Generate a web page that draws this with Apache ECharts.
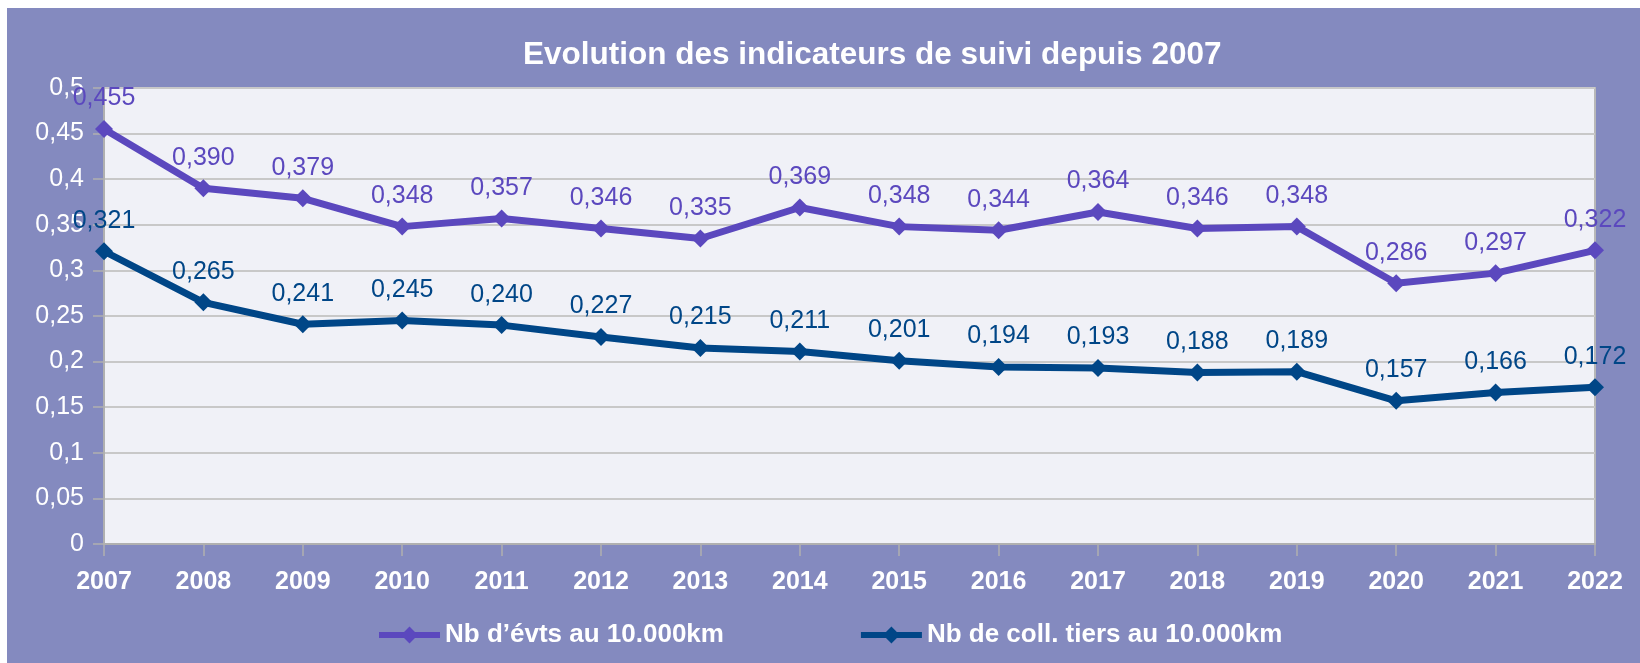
<!DOCTYPE html>
<html>
<head>
<meta charset="utf-8">
<script src="https://cdn.jsdelivr.net/npm/echarts@6/dist/echarts.min.js"></script>
<style>
html,body{margin:0;padding:0;background:#ffffff;width:1640px;height:663px;overflow:hidden;}
#chart{position:absolute;left:7px;top:8px;width:1633px;height:655px;}
</style>
</head>
<body>
<div id="chart"></div>
<script>
const years = ['2007','2008','2009','2010','2011','2012','2013','2014','2015','2016','2017','2018','2019','2020','2021','2022'];
const evtsValues = [0.455,0.390,0.379,0.348,0.357,0.346,0.335,0.369,0.348,0.344,0.364,0.346,0.348,0.286,0.297,0.322];
const collValues = [0.321,0.265,0.241,0.245,0.240,0.227,0.215,0.211,0.201,0.194,0.193,0.188,0.189,0.157,0.166,0.172];
const seriesNames = ['Nb d\u2019\u00e9vts au 10.000km', 'Nb de coll. tiers au 10.000km'];
const titleText = 'Evolution des indicateurs de suivi depuis 2007';

const FONT = "'Liberation Sans', Arial, sans-serif";
const PURPLE = '#5B48BE';
const NAVY = '#004687';

const chart = echarts.init(document.getElementById('chart'));
function mkSeries(name, data, color) {
  return {
    name: name,
    type: 'line',
    data: data,
    symbol: 'diamond',
    symbolSize: 18,
    lineStyle: { color: color, width: 7 },
    itemStyle: { color: color },
    label: {
      show: true,
      position: 'top',
      distance: 9,
      color: color,
      fontFamily: FONT,
      fontSize: 25,
      formatter: p => p.value.toFixed(3).replace('.', ',')
    },
    animation: false
  };
}
chart.setOption({
  backgroundColor: '#848ABF',
  animation: false,
  title: {
    text: titleText,
    left: 511,
    top: 26,
    textStyle: { color: '#ffffff', fontFamily: FONT, fontSize: 31.5, fontWeight: 'bold' }
  },
  grid: {
    left: 97, right: 45, top: 80, bottom: 119,
    show: true, backgroundColor: '#F0F1F7', borderColor: '#B8B8B8', borderWidth: 2,
    containLabel: false
  },
  legend: {
    left: 364,
    top: 609,
    itemWidth: 61,
    itemHeight: 21,
    itemGap: 134,
    lineStyle: { width: 6 },
    textStyle: { color: '#ffffff', fontFamily: FONT, fontSize: 26, fontWeight: 'bold' },
    data: seriesNames
  },
  xAxis: {
    type: 'category',
    data: years,
    boundaryGap: false,
    axisLine: { lineStyle: { color: '#B0B0B0', width: 2 } },
    axisTick: { show: true, length: 12, lineStyle: { color: '#B0B0B0', width: 1.5 } },
    axisLabel: { color: '#ffffff', fontFamily: FONT, fontSize: 25, fontWeight: 'bold', margin: 26 },
    splitLine: { show: false }
  },
  yAxis: {
    type: 'value',
    min: 0, max: 0.5, interval: 0.05,
    axisLine: { show: true, lineStyle: { color: '#B0B0B0', width: 2 } },
    axisTick: { show: true, length: 11, lineStyle: { color: '#B0B0B0', width: 1.5 } },
    axisLabel: {
      color: '#ffffff', fontFamily: FONT, fontSize: 25, margin: 20,
      formatter: v => String(+v.toFixed(2)).replace('.', ',')
    },
    splitLine: { show: true, lineStyle: { color: '#C8C8C8', width: 2 } }
  },
  series: [
    mkSeries(seriesNames[0], evtsValues, PURPLE),
    mkSeries(seriesNames[1], collValues, NAVY)
  ]
});
</script>
</body>
</html>
